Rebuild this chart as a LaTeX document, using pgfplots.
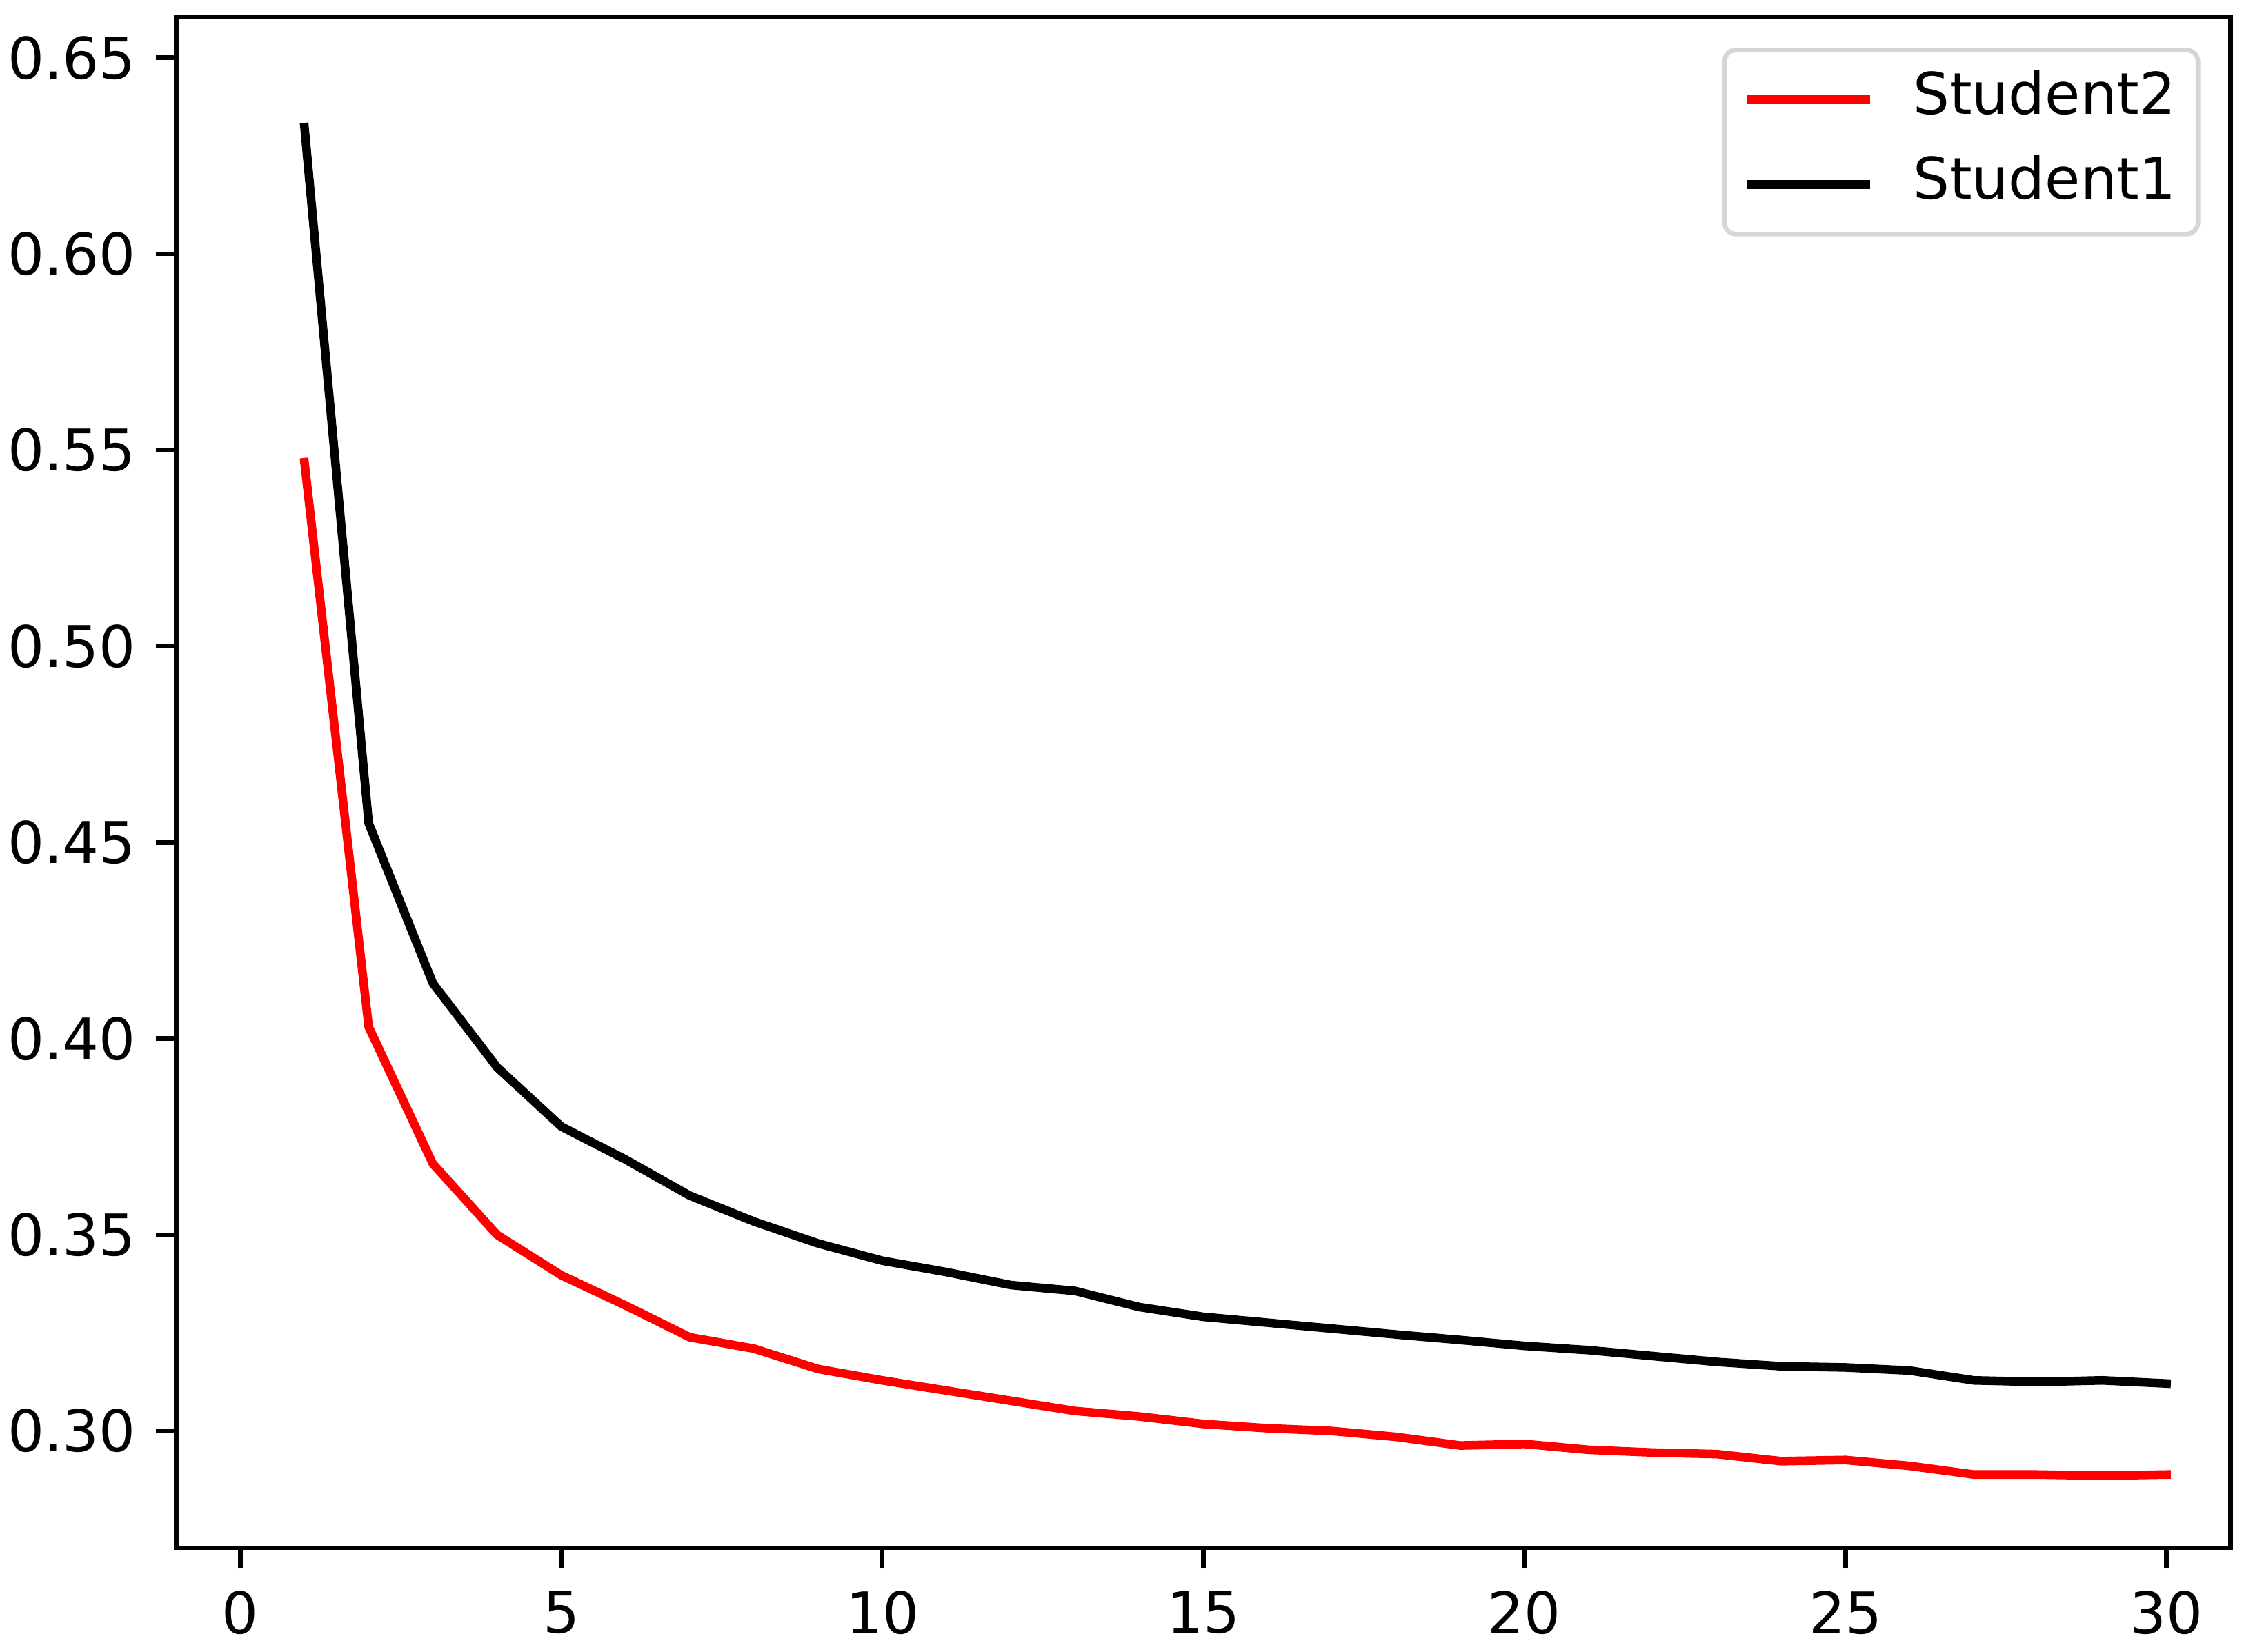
\documentclass[border=0pt]{standalone}
\usepackage{fontspec}
\setmainfont{DejaVu Sans}
\usepackage{pgfplots}
\pgfplotsset{compat=1.18}
\begin{document}
\begin{tikzpicture}
\begin{axis}[
  scale only axis,
  width=357.3bp, height=266.2bp,
  xmin=-1, xmax=31,
  ymin=0.2702, ymax=0.6603,
  xtick={0,5,10,15,20,25,30},
  ytick={0.30,0.35,0.40,0.45,0.50,0.55,0.60,0.65},
  tick pos=left,
  tick align=outside,
  major tick length=3.5bp,
  minor tick num=0,
  every tick/.style={line width=0.8bp, black},
  axis line style={line width=0.8bp},
  /pgf/number format/assume math mode=true,
  scaled ticks=false,
  font=\fontsize{10bp}{12bp}\selectfont,
  ticklabel style={font=\fontsize{10bp}{12bp}\selectfont},
  yticklabel style={/pgf/number format/.cd, fixed, fixed zerofill, precision=2},
  xticklabel style={yshift=-0.5bp, /pgf/number format/.cd, fixed, precision=0},
  clip=false,
  legend cell align=left,
  legend image code/.code={\draw[#1, line width=1.5bp, line cap=rect] (0bp,0bp) -- (20bp,0bp);},
  legend style={
    at={(rel axis cs:1,1)}, xshift=-5.3bp, yshift=-5.3bp,
    anchor=north east,
    draw=black!16, line width=0.8bp, rounded corners=2bp,
    inner sep=3.8bp,
    font=\fontsize{10bp}{12bp}\selectfont,
    nodes={inner sep=0pt, text height=7.3bp, text depth=2.3bp},
    column sep=7.5bp, row sep=5.2bp,
  },
]
\addplot[red, line width=1.5bp, line join=round, line cap=rect] coordinates {
(1,0.5469) (2,0.4030) (3,0.3681) (4,0.3500) (5,0.3397) (6,0.3320) (7,0.3239) (8,0.3210) (9,0.3158) (10,0.3129)
(11,0.3103) (12,0.3077) (13,0.3051) (14,0.3037) (15,0.3018) (16,0.3007) (17,0.3000) (18,0.2985) (19,0.2963) (20,0.2967)
(21,0.2952) (22,0.2945) (23,0.2941) (24,0.2923) (25,0.2926) (26,0.2911) (27,0.2889) (28,0.2889) (29,0.2886) (30,0.2889)
};
\addlegendentry{Student2}
\addplot[black, line width=1.5bp, line join=round, line cap=rect] coordinates {
(1,0.6323) (2,0.4549) (3,0.4141) (4,0.3927) (5,0.3776) (6,0.3692) (7,0.3600) (8,0.3534) (9,0.3478) (10,0.3434)
(11,0.3405) (12,0.3372) (13,0.3357) (14,0.3316) (15,0.3291) (16,0.3276) (17,0.3261) (18,0.3246) (19,0.3232) (20,0.3217)
(21,0.3206) (22,0.3191) (23,0.3176) (24,0.3165) (25,0.3162) (26,0.3154) (27,0.3129) (28,0.3125) (29,0.3129) (30,0.3121)
};
\addlegendentry{Student1}
\coordinate (bbl) at (rel axis cs:-0.0857,-0.0679);
\coordinate (btr) at (rel axis cs:1.0162,1.0113);
\end{axis}
\pgfresetboundingbox
\path[use as bounding box] (bbl) rectangle (btr);
\end{tikzpicture}
\end{document}
